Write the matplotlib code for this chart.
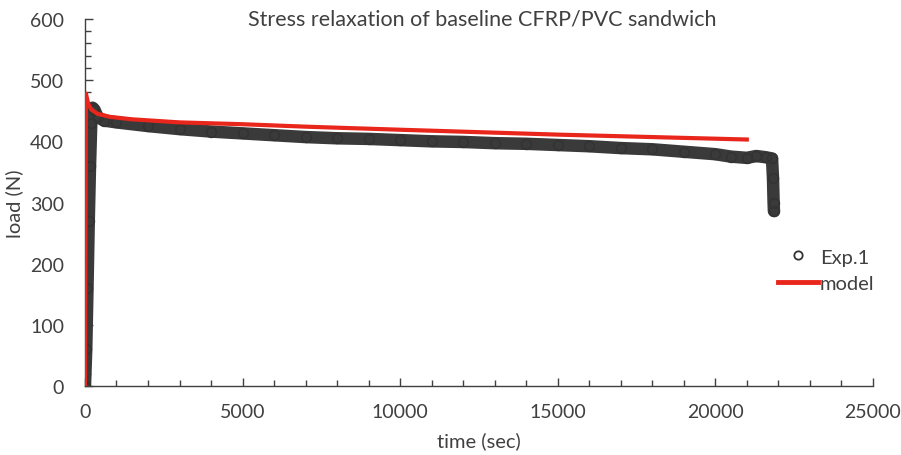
import matplotlib
matplotlib.use("Agg")
import matplotlib.pyplot as plt
from matplotlib.lines import Line2D
from matplotlib.ticker import MultipleLocator

plt.rcParams['font.family'] = ['Lato', 'DejaVu Sans']

# Experimental data (time in s, load in N)
exp_time = [0, 40, 80, 120, 160, 200, 240, 300, 400, 600, 1000, 2000, 3000, 4000,
            5000, 6000, 7000, 8000, 9000, 10000, 11000, 12000, 13000, 14000, 15000,
            16000, 17000, 18000, 19000, 20000, 20500, 21000, 21300, 21600, 21800,
            21830, 21850, 21860]
exp_load = [0, 60, 160, 270, 360, 430, 455, 452, 440, 434, 431, 425, 420, 416,
            413, 410, 407, 405, 404, 402, 400, 399, 397, 396, 394,
            392, 389, 387, 383, 379, 375, 373, 376, 374, 372,
            340, 300, 286]

# Model curve
model_time = [0, 30, 100, 200, 400, 800, 1500, 3000, 5000, 7000, 10000, 12500,
              15000, 18000, 21000]
model_load = [0, 478, 462, 452, 445, 440, 436, 431, 428, 424, 419, 415,
              411, 407, 403]

text_col = '#404040'
fig = plt.figure(figsize=(9.01, 4.56), dpi=100)
ax = fig.add_axes([0.0943, 0.1513, 0.8745, 0.8048])

ax.plot(exp_time, exp_load, color='#3a3a3a', lw=9, solid_capstyle='round',
        solid_joinstyle='round', zorder=2)
ax.plot(exp_time, exp_load, ls='none', marker='o', ms=7, mfc='none',
        mec='#333333', mew=1.2, zorder=2)
ax.plot(model_time, model_load, color='#e8261c', lw=3, zorder=3)

ax.set_xlim(0, 25000)
ax.set_ylim(0, 600)
ax.xaxis.set_major_locator(MultipleLocator(5000))
ax.xaxis.set_minor_locator(MultipleLocator(1000))
ax.yaxis.set_major_locator(MultipleLocator(100))
ax.yaxis.set_minor_locator(MultipleLocator(20))
for s in ['top', 'right']:
    ax.spines[s].set_visible(False)
for s in ['left', 'bottom']:
    ax.spines[s].set_color('#404040')
    ax.spines[s].set_linewidth(1.0)
ax.tick_params(which='major', direction='in', length=6, width=1, colors='#404040',
               labelsize=14, labelcolor=text_col)
ax.tick_params(axis='x', which='major', pad=12)
ax.tick_params(axis='y', which='major', pad=15)
ax.tick_params(which='minor', direction='in', length=4, width=1, colors='#404040')

ax.set_xlabel('time (sec)', fontsize=14.5, color=text_col, labelpad=8)
ax.set_ylabel('load (N)', fontsize=14.5, color=text_col, labelpad=5)
fig.text(0.535, 0.958, 'Stress relaxation of baseline CFRP/PVC sandwich', fontsize=15.5,
         color=text_col, ha='center', va='center')

handles = [Line2D([], [], ls='none', marker='o', ms=6, mfc='none', mec='#333333', mew=1.3),
           Line2D([], [], color='#e8261c', lw=3.5)]
ax.legend(handles, ['Exp.1', 'model'], loc='center left', bbox_to_anchor=(0.869, 0.316),
          frameon=False, fontsize=14.5, labelcolor=text_col, handlelength=2.0,
          handletextpad=0.1, borderaxespad=0, labelspacing=0.45)

fig.savefig('out.png', dpi=100)
